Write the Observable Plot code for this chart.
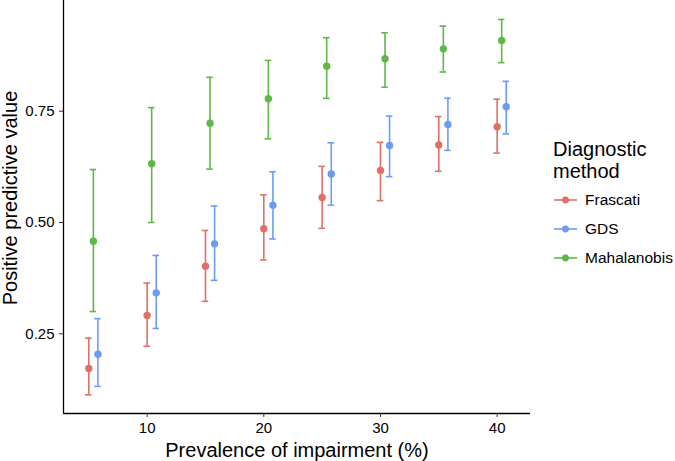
<!DOCTYPE html>
<html><head><meta charset="utf-8">
<script src="https://cdn.jsdelivr.net/npm/d3@7"></script>
<script src="https://cdn.jsdelivr.net/npm/@observablehq/plot@0.6"></script>
<style>
body{margin:0;background:#fff;font-family:"Liberation Sans",Arial,sans-serif;}
#wrap{position:relative;width:675px;height:461px;overflow:hidden;}
#wrap svg.plot{position:absolute;left:0;top:0;}
.ytitle{position:absolute;left:-120px;top:187.5px;width:260px;height:20px;line-height:20px;font-size:20px;text-align:center;color:#000;transform:rotate(-90deg);transform-origin:50% 50%;white-space:nowrap;}
.lg-title{position:absolute;left:553px;font-size:20px;line-height:21.5px;color:#000;white-space:nowrap;}
.lg-item{position:absolute;left:553px;height:20px;line-height:20px;font-size:15.5px;color:#000;white-space:nowrap;display:flex;align-items:center;}
.lg-item svg{margin-right:8px;}
</style></head><body><div id="wrap"></div>
<script>
const prevalence = [5, 10, 15, 20, 25, 30, 35, 40];
const methods = ["Frascati", "GDS", "Mahalanobis"];
const colors = ["#E06F67", "#6C9BF5", "#5DB847"];
const frascatiPPV   = [0.172, 0.291, 0.402, 0.486, 0.556, 0.617, 0.674, 0.715];
const frascatiLower = [0.113, 0.222, 0.323, 0.416, 0.487, 0.549, 0.615, 0.656];
const frascatiUpper = [0.240, 0.364, 0.482, 0.562, 0.626, 0.680, 0.738, 0.777];
const gdsPPV   = [0.204, 0.342, 0.452, 0.539, 0.609, 0.673, 0.720, 0.760];
const gdsLower = [0.132, 0.262, 0.370, 0.463, 0.539, 0.603, 0.662, 0.699];
const gdsUpper = [0.284, 0.426, 0.537, 0.614, 0.679, 0.739, 0.779, 0.817];
const mahalanobisPPV   = [0.458, 0.632, 0.723, 0.778, 0.851, 0.868, 0.890, 0.909];
const mahalanobisLower = [0.300, 0.500, 0.620, 0.688, 0.779, 0.804, 0.838, 0.859];
const mahalanobisUpper = [0.619, 0.758, 0.826, 0.864, 0.915, 0.926, 0.941, 0.956];
const xTicks = [10, 20, 30, 40];
const yTicks = [0.25, 0.50, 0.75];
const xTitle = "Prevalence of impairment (%)";
const yTitle = "Positive predictive value";
const legendTitle = ["Diagnostic", "method"];

// layout / style (not data)
const dodge = {Frascati: 0, GDS: 0.78, Mahalanobis: 0.39};
const capHalf = 0.28;
const xDomain = [2.83, 42.86];
const yDomain = [0.071, 0.9986];

const series = {
  Frascati: [frascatiPPV, frascatiLower, frascatiUpper],
  GDS: [gdsPPV, gdsLower, gdsUpper],
  Mahalanobis: [mahalanobisPPV, mahalanobisLower, mahalanobisUpper]
};
const rows = [];
for (const m of methods) {
  const [p, lo, hi] = series[m];
  prevalence.forEach((x, i) => rows.push({method: m, prev: x, ppv: p[i], lo: lo[i], hi: hi[i]}));
}
const X = d => d.prev + dodge[d.method];

const plot = Plot.plot({
  width: 675,
  height: 461,
  marginLeft: 63,
  marginRight: 145,
  marginTop: 0,
  marginBottom: 48,
  style: {fontFamily: '"Liberation Sans", Arial, sans-serif', fontSize: "15px", color: "#000", background: "#fff"},
  x: {domain: xDomain, axis: null},
  y: {domain: yDomain, axis: null},
  color: {domain: methods, range: colors},
  marks: [
    Plot.ruleX(rows, {x: X, y1: "lo", y2: "hi", stroke: "method", strokeWidth: 1.6}),
    Plot.ruleY(rows, {y: "hi", x1: d => X(d) - capHalf, x2: d => X(d) + capHalf, stroke: "method", strokeWidth: 1.6}),
    Plot.ruleY(rows, {y: "lo", x1: d => X(d) - capHalf, x2: d => X(d) + capHalf, stroke: "method", strokeWidth: 1.6}),
    Plot.dot(rows, {x: X, y: "ppv", fill: "method", r: 3.7}),
    Plot.ruleX([xDomain[0]], {stroke: "#000", strokeWidth: 1.3}),
    Plot.ruleY([yDomain[0]], {stroke: "#000", strokeWidth: 1.3}),
    Plot.axisX(xTicks, {tickSize: 4, tickPadding: 5, fontSize: 15, label: null, stroke: "#333"}),
    Plot.axisY(yTicks, {tickSize: 4, tickPadding: 5, fontSize: 15, label: null, tickFormat: d3.format(".2f"), stroke: "#333"}),
    Plot.text([xTitle], {frameAnchor: "bottom", text: d => d, fontSize: 20, dy: 36.6, lineAnchor: "middle", fill: "#000"})
  ]
});
plot.classList.add("plot");
const wrap = document.getElementById("wrap");
wrap.appendChild(plot);

// y-axis title
const yt = document.createElement("div");
yt.className = "ytitle";
yt.textContent = yTitle;
wrap.appendChild(yt);

// legend
legendTitle.forEach((t, i) => {
  const d = document.createElement("div");
  d.className = "lg-title";
  d.style.top = (139 + i * 21.5) + "px";
  d.textContent = t;
  wrap.appendChild(d);
});
methods.forEach((m, i) => {
  const d = document.createElement("div");
  d.className = "lg-item";
  d.style.top = (190 + i * 29) + "px";
  const ns = "http://www.w3.org/2000/svg";
  const s = document.createElementNS(ns, "svg");
  s.setAttribute("width", 24); s.setAttribute("height", 10);
  const l = document.createElementNS(ns, "line");
  l.setAttribute("x1", 1); l.setAttribute("x2", 24); l.setAttribute("y1", 5); l.setAttribute("y2", 5);
  l.setAttribute("stroke", colors[i]); l.setAttribute("stroke-width", 1.6);
  const c = document.createElementNS(ns, "circle");
  c.setAttribute("cx", 12.5); c.setAttribute("cy", 5); c.setAttribute("r", 3.4); c.setAttribute("fill", colors[i]);
  s.appendChild(l); s.appendChild(c);
  d.appendChild(s);
  const t = document.createElement("span");
  t.textContent = m;
  d.appendChild(t);
  wrap.appendChild(d);
});
</script></body></html>
